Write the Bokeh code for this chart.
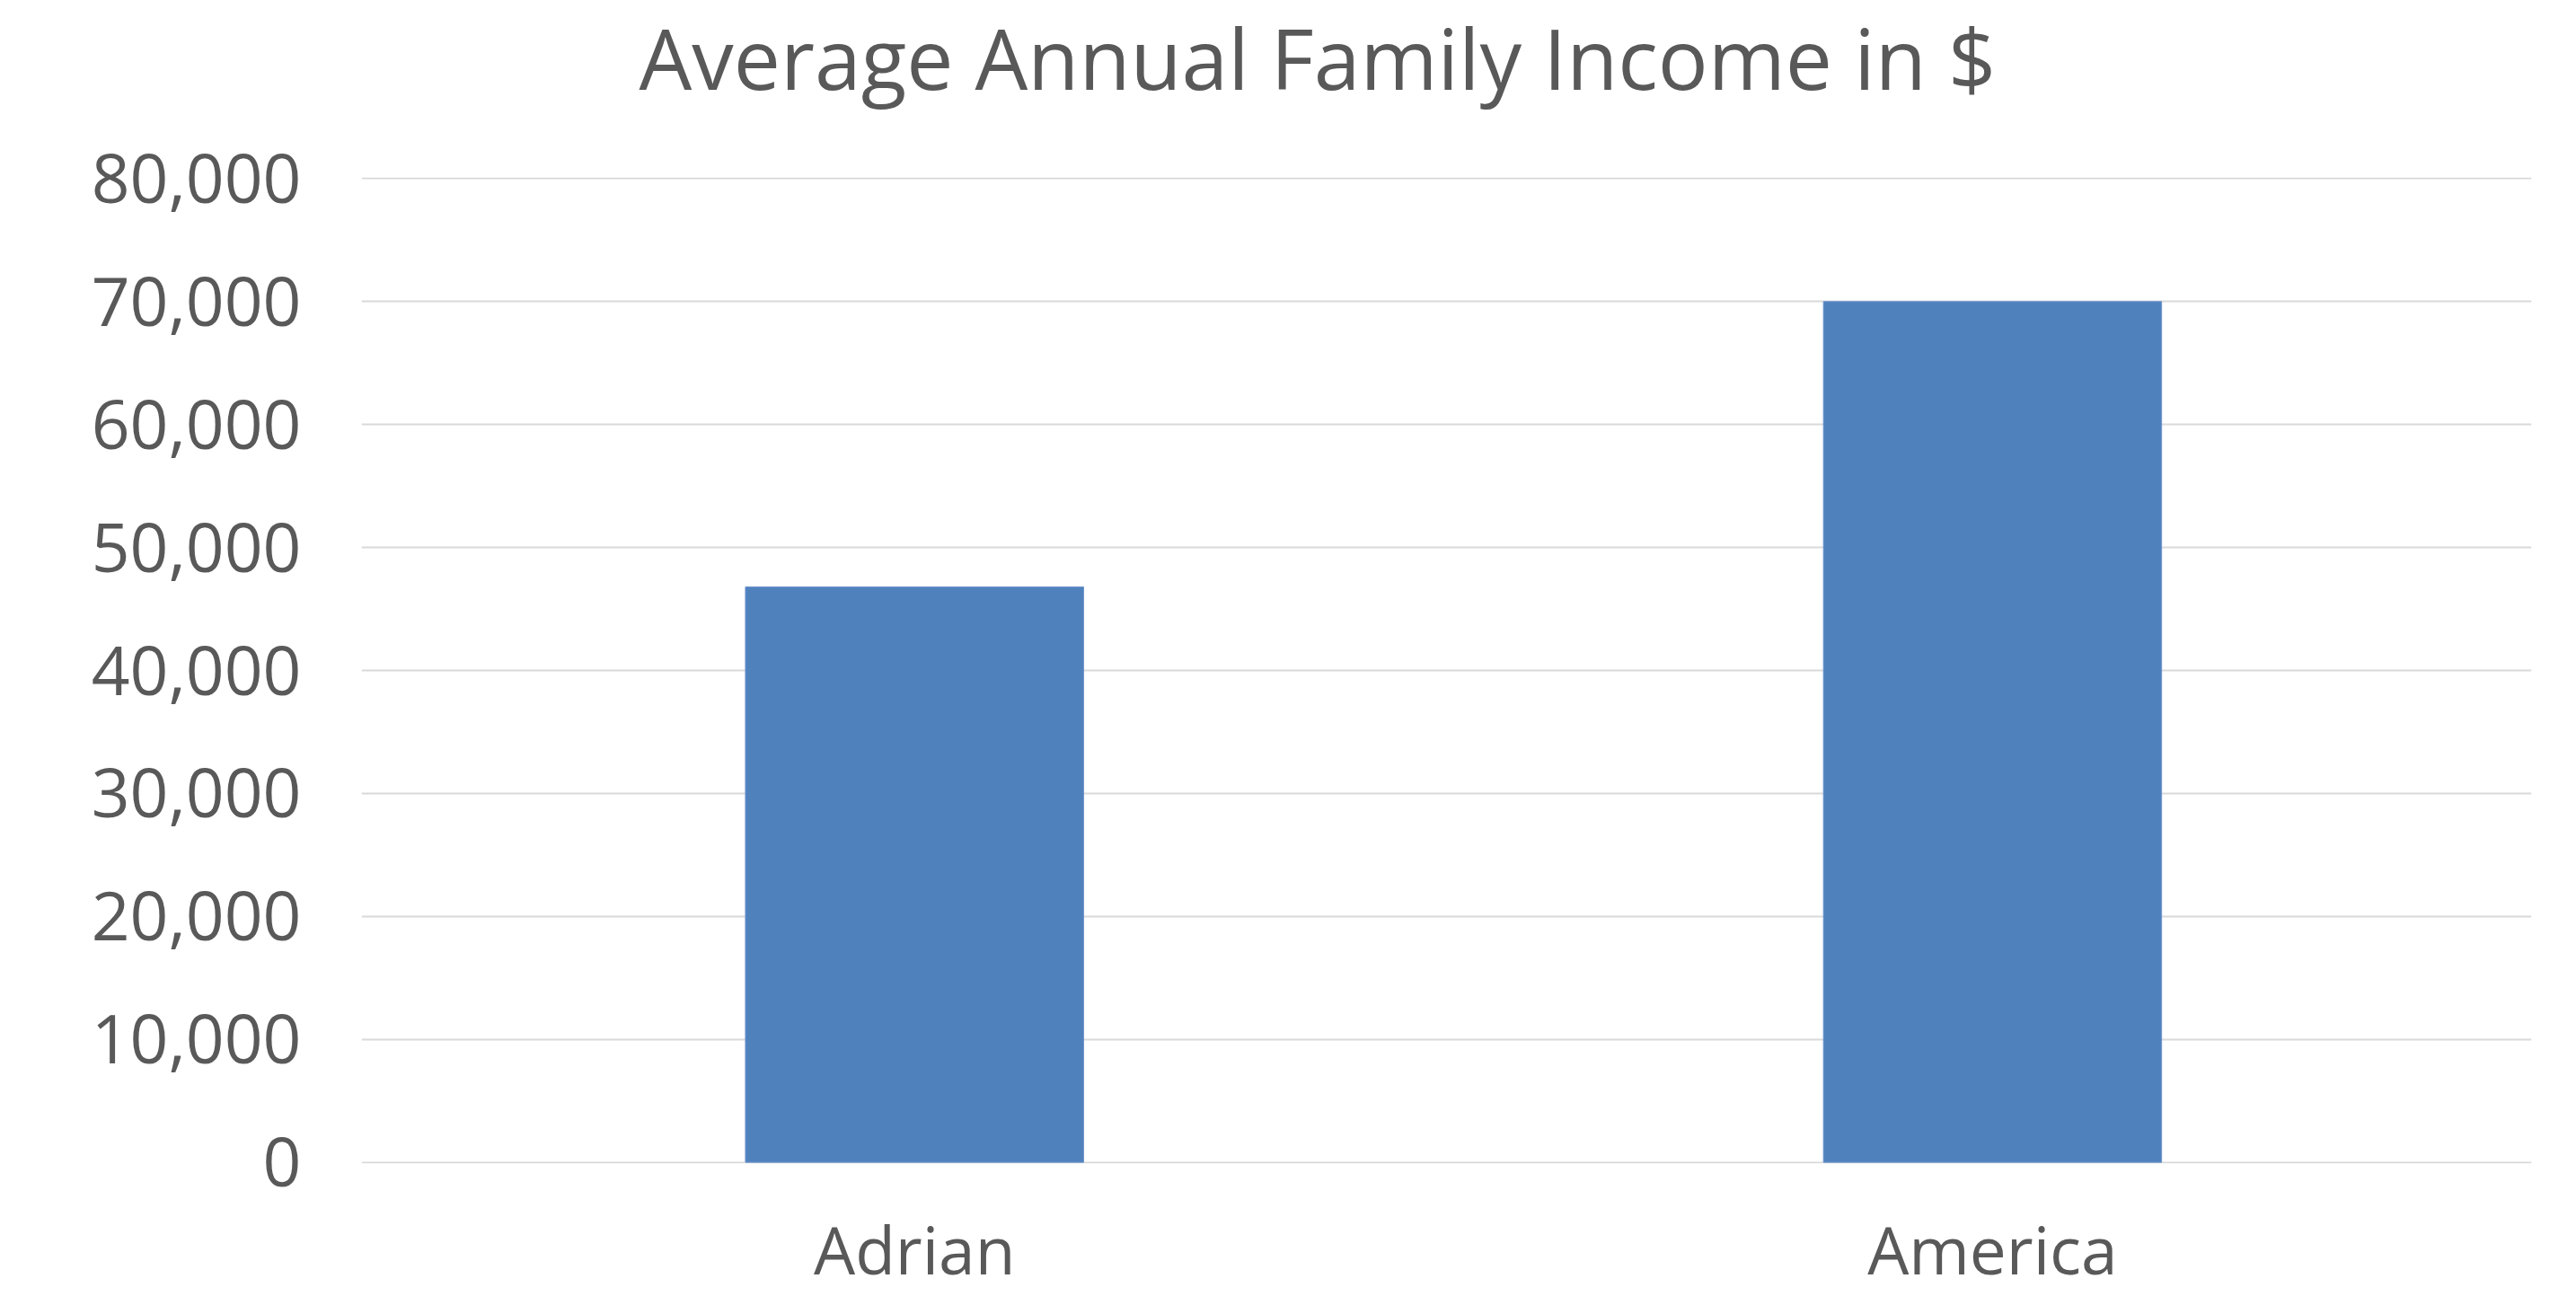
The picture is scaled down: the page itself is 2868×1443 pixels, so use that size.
from bokeh.plotting import figure
from bokeh.models import Range1d, FixedTicker, NumeralTickFormatter, Title
from bokeh.embed import file_html
from bokeh.resources import INLINE

# Data
categories = ["Adrian", "America"]
incomes = [46800, 70000]
y_ticks = [0, 10000, 20000, 30000, 40000, 50000, 60000, 70000, 80000]
title_text = "Average Annual Family Income in $"

x_pos = [i + 0.5 for i in range(len(categories))]

TEXT = "#595959"
FONT = "Open Sans"

p = figure(width=2868, height=1443, output_backend="svg", toolbar_location=None,
           title=None,
           x_range=Range1d(-0.013, 2.0), y_range=Range1d(-100, 80100),
           min_border_left=402, min_border_right=50, min_border_top=197,
           min_border_bottom=148)
p.outline_line_color = None
p.background_fill_color = "white"
p.border_fill_color = "white"

p.vbar(x=x_pos, top=incomes, width=0.3137, bottom=0,
       fill_color="#4f81bd", line_color="#6f95cc", line_width=1)

# y axis
p.yaxis.ticker = FixedTicker(ticks=y_ticks)
p.yaxis.formatter = NumeralTickFormatter(format="0,0")
# x axis
p.xaxis.ticker = FixedTicker(ticks=x_pos)
p.xaxis.major_label_overrides = {x: c for x, c in zip(x_pos, categories)}

for ax in (p.xaxis[0], p.yaxis[0]):
    ax.axis_line_color = None
    ax.major_tick_line_color = None
    ax.minor_tick_line_color = None
    ax.major_tick_out = 0
    ax.major_tick_in = 0
    ax.minor_tick_out = 0
    ax.minor_tick_in = 0
    ax.major_label_text_color = TEXT
    ax.major_label_text_font = FONT
yax = p.yaxis[0]
yax.major_label_text_font_size = "75px"
yax.major_label_standoff = 67
xax = p.xaxis[0]
xax.major_label_text_font_size = "73px"
xax.major_label_standoff = 45

p.xgrid.grid_line_color = None
p.ygrid.grid_line_color = "#d9d9d9"
p.ygrid.grid_line_width = 2

# spacer between title and plot area, then the title itself
p.add_layout(Title(text=" ", text_font=FONT, text_font_size="10px",
                   text_color="white", standoff=63), "above")
p.add_layout(Title(text=title_text, text_font=FONT, text_font_size="93px",
                   text_color=TEXT, text_font_style="normal",
                   align="left", offset=309, standoff=-16), "above")

open("out.html", "w").write(file_html(p, INLINE))
